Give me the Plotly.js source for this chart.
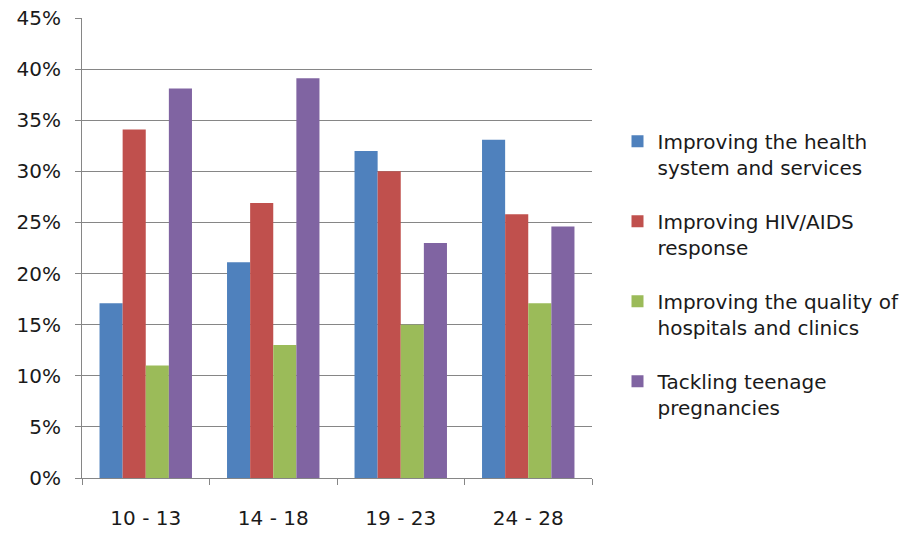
<!DOCTYPE html>
<html>
<head>
<meta charset="utf-8">
<script src="https://cdn.plot.ly/plotly-3.0.1.min.js"></script>
<style>html,body{margin:0;padding:0;background:#fff;}#chart{width:916px;height:535px;}</style>
</head>
<body>
<div id="chart"></div>
<script>
const categories = ["10 - 13", "14 - 18", "19 - 23", "24 - 28"];
const seriesNames = [
  "Improving the health<br>system and services",
  "Improving HIV/AIDS<br>response",
  "Improving the quality of<br>hospitals and clinics",
  "Tackling teenage<br>pregnancies"
];
const healthSystem = [0.171, 0.211, 0.320, 0.331];
const hivAids = [0.341, 0.269, 0.300, 0.258];
const hospitalQuality = [0.110, 0.130, 0.150, 0.171];
const teenPregnancies = [0.381, 0.391, 0.230, 0.246];
const yTicks = [0, 0.05, 0.10, 0.15, 0.20, 0.25, 0.30, 0.35, 0.40, 0.45];
const yTickLabels = ["0%", "5%", "10%", "15%", "20%", "25%", "30%", "35%", "40%", "45%"];

const colors = ["#4F81BD", "#C0504D", "#9BBB59", "#8064A2"];
const allSeries = [healthSystem, hivAids, hospitalQuality, teenPregnancies];

const traces = allSeries.map((vals, i) => ({
  type: "bar",
  name: seriesNames[i],
  legendgroup: "g" + i,
  x: categories,
  y: vals,
  marker: {color: colors[i], line: {width: 0}},
  hoverinfo: "skip"
}));

const font = "DejaVu Sans, Liberation Sans, sans-serif";
const txt = "#1a1a1a";

const layout = {
  width: 916, height: 535,
  margin: {l: 82, r: 324, t: 18, b: 57, autoexpand: false},
  paper_bgcolor: "#ffffff",
  plot_bgcolor: "#ffffff",
  barmode: "group",
  bargap: 0.275,
  bargroupgap: 0,
  showlegend: true,
  font: {family: font, size: 20, color: txt},
  xaxis: {
    type: "category",
    showgrid: false,
    showline: true,
    linecolor: "#868686",
    linewidth: 1,
    ticks: "outside",
    tickson: "boundaries",
    ticklen: 6,
    tickcolor: "#868686",
    ticklabelstandoff: 22,
    tickfont: {family: font, size: 20, color: txt},
    zeroline: false
  },
  yaxis: {
    range: [0, 0.45],
    tickmode: "array",
    tickvals: yTicks,
    ticktext: yTickLabels,
    showgrid: true,
    gridcolor: "#868686",
    gridwidth: 1,
    showline: true,
    linecolor: "#868686",
    linewidth: 1,
    ticks: "outside",
    ticklen: 6,
    tickcolor: "#868686",
    ticklabelstandoff: 10,
    tickfont: {family: font, size: 20, color: txt},
    zeroline: false
  },
  legend: {
    x: 1.05, xanchor: "left",
    y: 0.443, yanchor: "middle",
    traceorder: "grouped",
    tracegroupgap: 25,
    valign: "top",
    font: {family: font, size: 20, color: txt},
    itemwidth: 30,
    bgcolor: "rgba(0,0,0,0)"
  }
};

Plotly.newPlot("chart", traces, layout, {displayModeBar: false, staticPlot: true});
</script>
</body>
</html>
